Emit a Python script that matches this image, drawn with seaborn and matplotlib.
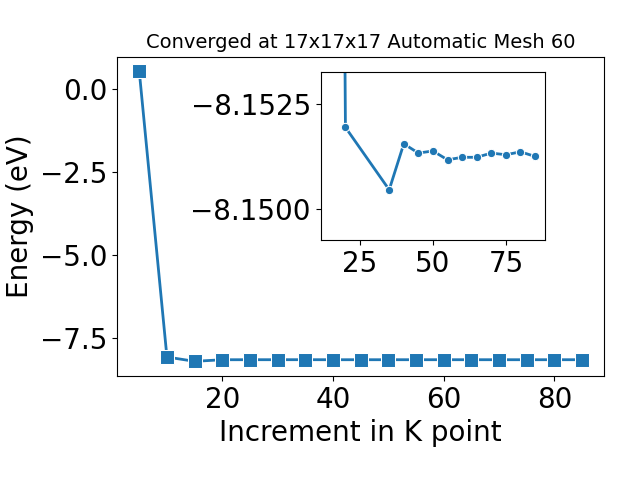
import numpy as np
import pandas as pd
import seaborn as sns
import matplotlib
matplotlib.use('Agg')
import matplotlib.pyplot as plt

# k-point increments and total energies (eV)
kpoints = [5, 10, 15, 20, 25, 30, 35, 40, 45, 50, 55, 60, 65, 70, 75, 80, 85]
energy = [0.55, -8.07, -8.20, -8.15194, -8.15120, -8.15083, -8.15046, -8.15155, -8.15133,
          -8.15138, -8.15117, -8.15123, -8.15123, -8.15133, -8.15129, -8.15136, -8.15125]

# inset (converged region)
kpoints_zoom = [15, 20, 35, 40, 45, 50, 55, 60, 65, 70, 75, 80, 85]
energy_zoom = [-8.20, -8.15194, -8.15046, -8.15155, -8.15133, -8.15138, -8.15117,
               -8.15123, -8.15123, -8.15133, -8.15129, -8.15136, -8.15125]

df = pd.DataFrame({'k': kpoints, 'E': energy})
dz = pd.DataFrame({'k': kpoints_zoom, 'E': energy_zoom})
color = '#1f77b4'

fig = plt.figure(figsize=(6.4, 4.8), dpi=100)
ax = fig.add_axes([0.183, 0.217, 0.761, 0.665])
sns.lineplot(data=df, x='k', y='E', marker='s', markersize=10, linewidth=2, color=color, ax=ax)
ax.set_xlabel('Increment in K point', fontsize=20)
ax.set_ylabel('Energy (eV)', fontsize=20)
ax.tick_params(labelsize=20)
ax.set_yticks([0.0, -2.5, -5.0, -7.5])
ax.set_title('Converged at 17x17x17 Automatic Mesh 60', fontsize=14)

ins = fig.add_axes([0.501, 0.5, 0.351, 0.349])
sns.lineplot(data=dz, x='k', y='E', marker='o', markersize=6, linewidth=2, color=color, ax=ins)
ins.set_ylim(-8.14927, -8.15324)
ins.set_yticks([-8.1525, -8.1500])
ins.set_xticks([25, 50, 75])
ins.tick_params(labelsize=20)
ins.set_xlabel('')
ins.set_ylabel('')

fig.savefig('out.png', dpi=100)
